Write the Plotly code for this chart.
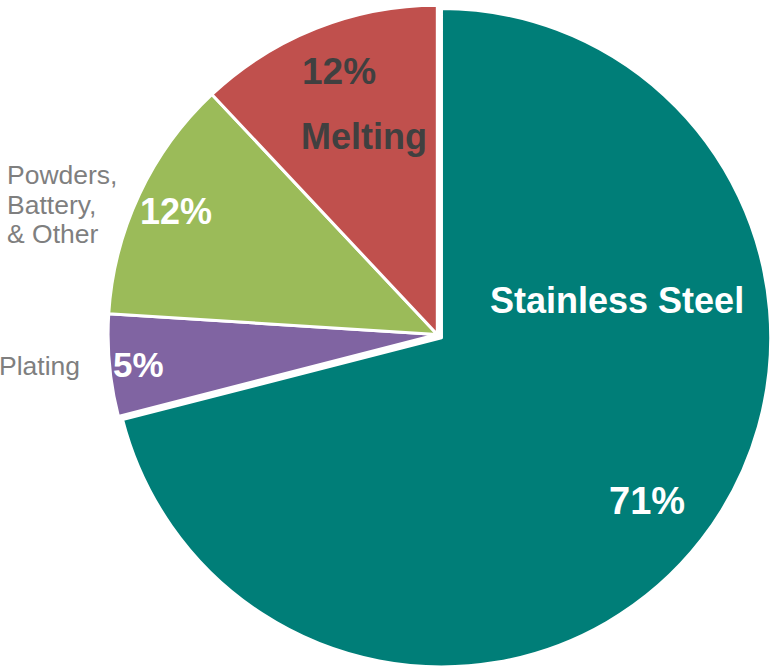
import plotly.graph_objects as go

labels = ["Stainless Steel", "Plating", "Powders, Battery, & Other", "Melting"]
values = [71, 5, 12, 12]
colors = ["#007E78", "#8064A2", "#9BBB59", "#C0504D"]
pulls = [0.016, 0, 0, 0]

W, H = 774, 669

fig = go.Figure()
fig.add_trace(go.Pie(
    labels=labels, values=values, sort=False, direction="clockwise", rotation=0,
    marker=dict(colors=colors, line=dict(color="white", width=3)),
    pull=pulls, textinfo="none", hoverinfo="label+percent",
    domain=dict(x=[0.13, 1.0], y=[0.0, 1.0]),
))

def px(x, y):
    return x / W, 1 - y / H

def ann(text, x, y, size, color, bold=True, xanchor="center", family="Liberation Sans, Arial, sans-serif"):
    ax, ay = px(x, y)
    t = f"<b>{text}</b>" if bold else text
    fig.add_annotation(x=ax, y=ay, xref="paper", yref="paper", text=t, showarrow=False,
                       xanchor=xanchor, yanchor="middle",
                       font=dict(size=size, color=color, family=family))

pct = [f"{v}%" for v in values]

# in-slice labels
ann("Stainless Steel", 617, 300, 36, "white")
ann(pct[0], 647, 501, 38, "white")
ann(pct[1], 138, 364, 35, "white")
ann(pct[2], 176, 212, 36, "white")
ann(pct[3], 339, 72, 37, "#404040")
ann(labels[3], 364, 137, 36, "#404040")

# outside labels
gray = "#7F7F7F"
ann("Plating", -3, 366, 26.5, gray, bold=False, xanchor="left")
for i, line in enumerate(["Powders,", "Battery,", "& Other"]):
    ann(line, 5, 175 + i * 29.5, 26.5, gray, bold=False, xanchor="left")

fig.update_layout(width=W, height=H, margin=dict(l=0, r=0, t=0, b=0),
                  paper_bgcolor="white", plot_bgcolor="white", showlegend=False)

fig.write_html("out.html", config={"displayModeBar": False},
               post_script="document.body.style.margin='0';document.body.style.overflow='hidden';")
